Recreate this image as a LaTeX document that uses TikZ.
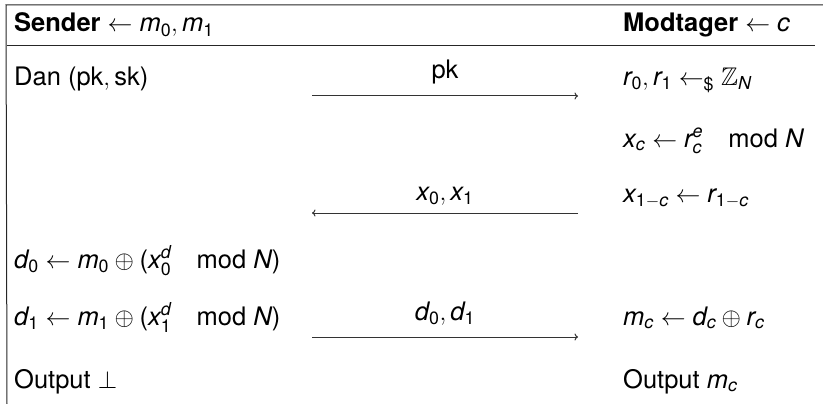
\documentclass[tikz,border=0pt]{standalone}
\usepackage{amsmath,amssymb}
\usepackage{fontspec}
\setmainfont{TeX Gyre Heros}
\usetikzlibrary{arrows.meta,positioning}
\newcommand{\sv}[1]{\textit{#1}}
\newcommand{\nr}[1]{\text{#1}}
\tikzset{
  txt/.style={anchor=base west, inner sep=0pt, font=\fontsize{25.5}{30}\selectfont},
  lbl/.style={anchor=base, inner sep=0pt, font=\fontsize{25.5}{30}\selectfont},
  frame/.style={line width=1pt, draw=black!85},
  msg/.style={-{To[length=3.5pt,width=7pt]}, line width=1pt, draw=black!80},
}

\begin{document}
\begin{tikzpicture}[x=1pt, y=-1pt]
\useasboundingbox (0,0) rectangle (823,404);

% frame
\coordinate (tl) at (6,5);
\coordinate (tr) at (823,5);
\coordinate (bl) at (7,404);
\coordinate (hl) at (7,46);
\coordinate (hr) at (815,46);
\draw[frame] (tr) -- (tl) -- (bl);
\draw[frame] (hl) -- (hr);

% header
\node[txt] (snd) at (14,32) {\textbf{Sender} $\leftarrow \sv{m}_{\nr{0}}, \sv{m}_{\nr{1}}$};
\node[txt] (rcv) at (623,32) {\textbf{Modtager} $\leftarrow \sv{c}$};

% sender side
\node[txt] (gen) at (14,85) {Dan $\nr{(pk}, \nr{sk)}$};
\node[txt] (dzero) at (14,268) {$\sv{d}_{\nr{0}} \leftarrow \sv{m}_{\nr{0}} \oplus \nr{(}\sv{x}_{\nr{0}}^{\sv{d}} \quad \nr{mod}\ \sv{N}\nr{)}$};
\node[txt] (done) at (14,325) {$\sv{d}_{\nr{1}} \leftarrow \sv{m}_{\nr{1}} \oplus \nr{(}\sv{x}_{\nr{1}}^{\sv{d}} \quad \nr{mod}\ \sv{N}\nr{)}$};
\node[txt] (outs) at (14,388) {Output $\perp$};

% receiver side
\node[txt] (rand) at (623,85) {$\sv{r}_{\nr{0}}, \sv{r}_{\nr{1}} \leftarrow_{\nr{\$}} \mathbb{Z}_{\sv{N}}$};
\node[txt] (enc) at (623,147) {$\sv{x}_{\sv{c}} \leftarrow \sv{r}_{\sv{c}}^{\sv{e}} \quad \nr{mod}\ \sv{N}$};
\node[txt] (oth) at (623,202) {$\sv{x}_{\nr{1}-\sv{c}} \leftarrow \sv{r}_{\nr{1}-\sv{c}}$};
\node[txt] (dec) at (623,325) {$\sv{m}_{\sv{c}} \leftarrow \sv{d}_{\sv{c}} \oplus \sv{r}_{\sv{c}}$};
\node[txt] (outr) at (623,388) {Output $\sv{m}_{\sv{c}}$};

% messages
\coordinate (a1) at (312,96);  \coordinate (b1) at (578,96);
\coordinate (a2) at (312,213); \coordinate (b2) at (578,213);
\coordinate (a3) at (312,337); \coordinate (b3) at (578,337);
\draw[msg] (a1) -- (b1);
\draw[msg] (b2) -- (a2);
\draw[msg] (a3) -- (b3);
\node[lbl] (pk) at (445,79) {pk};
\node[lbl] (xs) at (445,200) {$\sv{x}_{\nr{0}}, \sv{x}_{\nr{1}}$};
\node[lbl] (ds) at (445,320) {$\sv{d}_{\nr{0}}, \sv{d}_{\nr{1}}$};
\end{tikzpicture}
\end{document}
